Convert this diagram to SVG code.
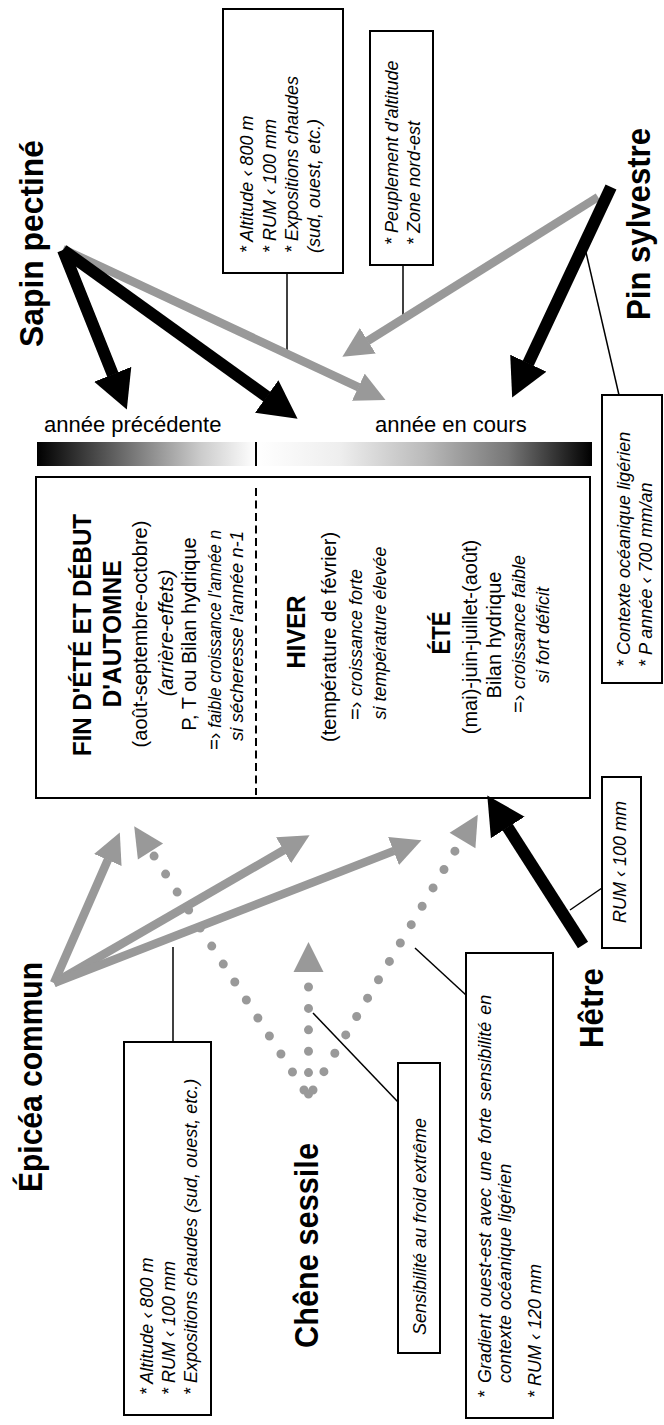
<svg xmlns="http://www.w3.org/2000/svg" width="664" height="1425" viewBox="0 0 664 1425">
<style>
text{font-family:'Liberation Sans',Arial,sans-serif;fill:#000}
.lbl{font-weight:bold;font-size:33px}
.hd{font-weight:bold;font-size:26px}
.rg{font-size:20px}
.i20{font-style:italic;font-size:20px}
.it{font-style:italic;font-size:18px}
.yr{font-size:22px}
.mid{text-anchor:middle}
.bx{fill:#fff;stroke:#000;stroke-width:2}
.cn{stroke:#000;stroke-width:1.5;fill:none}
.ba{stroke:#000;stroke-width:12;fill:none;marker-end:url(#bh)}
.ga{stroke:#999;stroke-width:8.5;fill:none;marker-end:url(#gh)}
.dot{stroke:#999;stroke-width:9;stroke-linecap:round;fill:none}
.dh{fill:#999}
</style>
<defs>
<marker id="bh" markerUnits="userSpaceOnUse" markerWidth="40" markerHeight="40" viewBox="0 -20 40 40" refX="0.5" refY="0" orient="auto"><path d="M0,-20 L38,0 L0,20 z" fill="#000"/></marker>
<marker id="gh" markerUnits="userSpaceOnUse" markerWidth="32" markerHeight="30" viewBox="0 -15 32 30" refX="0.5" refY="0" orient="auto"><path d="M0,-15 L30,0 L0,15 z" fill="#999"/></marker>
<linearGradient id="gl" x1="0" x2="1" y1="0" y2="0"><stop offset="0" stop-color="#000"/><stop offset="0.25" stop-color="#444"/><stop offset="0.5" stop-color="#888"/><stop offset="0.75" stop-color="#ccc"/><stop offset="1" stop-color="#fff"/></linearGradient>
<linearGradient id="gr" x1="0" x2="1" y1="0" y2="0"><stop offset="0" stop-color="#fff"/><stop offset="0.25" stop-color="#eee"/><stop offset="0.5" stop-color="#bbb"/><stop offset="0.75" stop-color="#777"/><stop offset="1" stop-color="#000"/></linearGradient>
</defs>

<g id="timeline">
<rect x="37" y="442" width="219" height="24" fill="url(#gl)"/>
<rect x="256" y="442" width="336" height="24" fill="url(#gr)"/>
<line x1="256" y1="442" x2="256" y2="466" stroke="#000" stroke-width="2"/>
<text class="yr" x="44" y="432">année précédente</text>
<text class="yr" x="375" y="432">année en cours</text>
</g>

<g id="seasons">
<rect class="bx" x="36" y="477" width="554" height="321"/>
<line x1="256" y1="488" x2="256" y2="795" stroke="#000" stroke-width="2" stroke-dasharray="8 4.5"/>
<g transform="rotate(-90)">
<text class="hd mid" x="-635" y="91" textLength="242" lengthAdjust="spacingAndGlyphs">FIN D'ÉTÉ ET DÉBUT</text>
<text class="hd mid" x="-634" y="121" textLength="147" lengthAdjust="spacingAndGlyphs">D'AUTOMNE</text>
<text class="rg mid" x="-634" y="147">(août-septembre-octobre)</text>
<text class="i20 mid" x="-633" y="173">(arrière-effets)</text>
<text class="rg mid" x="-634" y="196">P, T ou Bilan hydrique</text>
<text x="-750" y="221" textLength="220" lengthAdjust="spacingAndGlyphs"><tspan class="rg">=› </tspan><tspan class="it">faible croissance l'année n</tspan></text>
<text class="it mid" x="-636" y="243" textLength="210" lengthAdjust="spacingAndGlyphs">si sécheresse l'année n-1</text>
<text class="hd mid" x="-632" y="305" textLength="73" lengthAdjust="spacingAndGlyphs">HIVER</text>
<text class="rg mid" x="-637" y="336">(température de février)</text>
<text x="-720" y="362"><tspan class="rg">=› </tspan><tspan class="it">croissance forte</tspan></text>
<text class="it mid" x="-633" y="386">si température élevée</text>
<text class="hd mid" x="-633" y="450" textLength="43" lengthAdjust="spacingAndGlyphs">ÉTÉ</text>
<text class="rg mid" x="-637" y="477">(mai)-juin-juillet-(août)</text>
<text class="rg mid" x="-635" y="501">Bilan hydrique</text>
<text x="-713" y="525"><tspan class="rg">=› </tspan><tspan class="it">croissance faible</tspan></text>
<text class="it mid" x="-635" y="549">si fort déficit</text>
</g>
</g>

<g id="sapin"><text class="lbl" transform="rotate(-90)" x="-347" y="43" textLength="207" lengthAdjust="spacingAndGlyphs">Sapin pectiné</text></g>
<g id="pin"><text class="lbl" transform="rotate(-90)" x="-320" y="650" textLength="192" lengthAdjust="spacingAndGlyphs">Pin sylvestre</text></g>
<g id="epicea"><text class="lbl" transform="rotate(-90)" x="-1192" y="42" textLength="230" lengthAdjust="spacingAndGlyphs">Épicéa commun</text></g>
<g id="chene"><text class="lbl" transform="rotate(-90)" x="-1348" y="318" textLength="205" lengthAdjust="spacingAndGlyphs">Chêne sessile</text></g>
<g id="hetre"><text class="lbl" transform="rotate(-90)" x="-1048" y="603" textLength="80" lengthAdjust="spacingAndGlyphs">Hêtre</text></g>

<g id="note-sapin">
<rect class="bx" x="223" y="9" width="120" height="264"/>
<g transform="rotate(-90)">
<text class="it" x="-253" y="253">* Altitude ‹ 800 m</text>
<text class="it" x="-253" y="276">* RUM ‹ 100 mm</text>
<text class="it" x="-253" y="298">* Expositions chaudes</text>
<text class="it" x="-253" y="320">(sud, ouest, etc.)</text>
</g>
</g>
<g id="note-pin1">
<rect class="bx" x="370" y="31" width="63" height="234"/>
<g transform="rotate(-90)">
<text class="it" x="-245" y="398">* Peuplement d'altitude</text>
<text class="it" x="-245" y="420">* Zone nord-est</text>
</g>
</g>
<g id="note-pin2">
<rect class="bx" x="602" y="395" width="60" height="288"/>
<g transform="rotate(-90)">
<text class="it" x="-667" y="630">* Contexte océanique ligérien</text>
<text class="it" x="-667" y="652">* P année ‹ 700 mm/an</text>
</g>
</g>
<g id="note-hetre">
<rect class="bx" x="602" y="777" width="39" height="171"/>
<text class="it mid" transform="rotate(-90)" x="-862" y="626">RUM ‹ 100 mm</text>
</g>
<g id="note-epicea">
<rect class="bx" x="124" y="1042" width="87" height="373"/>
<g transform="rotate(-90)">
<text class="it" x="-1395" y="153">* Altitude ‹ 800 m</text>
<text class="it" x="-1395" y="175">* RUM ‹ 100 mm</text>
<text class="it" x="-1395" y="197">* Expositions chaudes (sud, ouest, etc.)</text>
</g>
</g>
<g id="note-chene1">
<rect class="bx" x="398" y="1063" width="42" height="290"/>
<text class="it" transform="rotate(-90)" x="-1335" y="426">Sensibilité au froid extrême</text>
</g>
<g id="note-chene2">
<rect class="bx" x="466" y="953" width="87" height="465"/>
<g transform="rotate(-90)">
<text class="it" x="-1398" y="491">*<tspan x="-1383" word-spacing="2">Gradient ouest-est avec une forte sensibilité en</tspan></text>
<text class="it" x="-1383" y="511">contexte océanique ligérien</text>
<text class="it" x="-1398" y="541">* RUM ‹ 120 mm</text>
</g>
</g>

<g id="connectors">
<line class="cn" x1="287" y1="273" x2="287" y2="350"/>
<line class="cn" x1="403" y1="265" x2="403" y2="317"/>
<line class="cn" x1="585" y1="248" x2="619" y2="395"/>
<line class="cn" x1="173" y1="947" x2="173" y2="1042"/>
<line class="cn" x1="313" y1="1013" x2="398" y2="1102"/>
<line class="cn" x1="415" y1="948" x2="466" y2="995"/>
<line class="cn" x1="570" y1="910" x2="602" y2="888"/>
<line class="ga" x1="63" y1="249" x2="358.8" y2="387.4"/>
<line class="ba" x1="63" y1="250" x2="112.9" y2="374.7"/>
<line class="ba" x1="63" y1="250" x2="267.1" y2="396.8"/>
<line class="ga" x1="598" y1="197" x2="367.4" y2="341.1"/>
<line class="ba" x1="611" y1="187" x2="528.1" y2="363.6"/>
<line class="ba" x1="583" y1="945" x2="507.5" y2="827"/>
<line class="ga" x1="54" y1="983" x2="108" y2="859.5"/>
<line class="ga" x1="54" y1="983" x2="284" y2="850"/>
<line class="ga" x1="54" y1="983" x2="394" y2="850.9"/>
<line class="dot" x1="304" y1="1090" x2="154" y2="856" stroke-dasharray="0 21.37"/>
<line class="dot" x1="308.5" y1="1094" x2="308.5" y2="987" stroke-dasharray="0 21.39"/>
<line class="dot" x1="313" y1="1090" x2="455" y2="851" stroke-dasharray="0 21.37"/>
<polygon class="dh" points="134.2,826.3 163.1,843.4 137.9,859.6"/>
<polygon class="dh" points="308.5,942 323.5,972 293.5,972"/>
<polygon class="dh" points="477.8,814.7 475.4,848.2 449.6,832.8"/>
</g>
</svg>
